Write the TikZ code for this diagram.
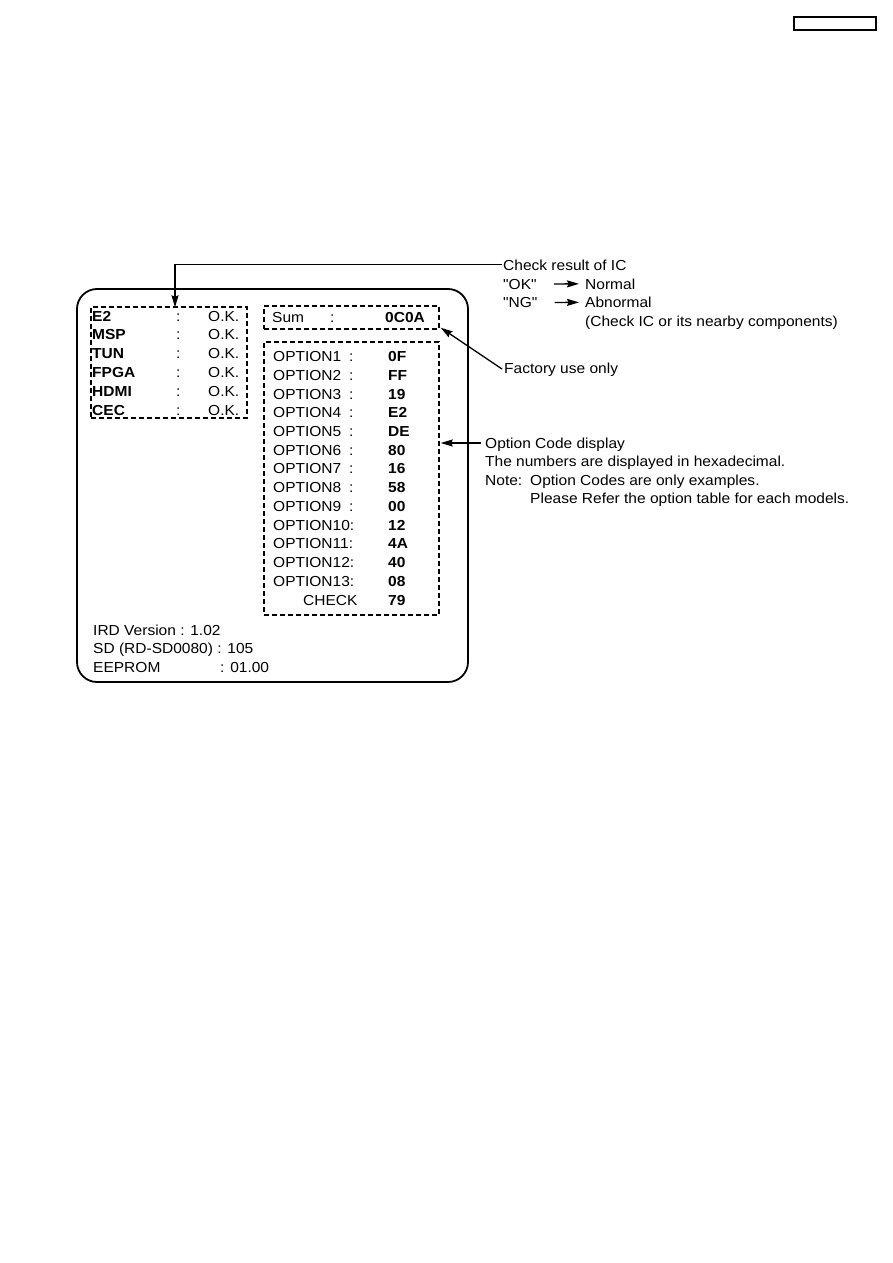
\documentclass[tikz,border=0pt]{standalone}
\usepackage{fontspec}
\setmainfont{Liberation Sans}[FakeStretch=1.07,Ligatures=TeXOff]
\usetikzlibrary{arrows.meta}
\begin{document}
\begin{tikzpicture}[x=1pt,y=-1pt,
 t/.style={anchor=base west,inner sep=0pt,font=\fontsize{14.5}{17}\selectfont},
 tb/.style={anchor=base west,inner sep=0pt,font=\fontsize{14.5}{17}\selectfont\bfseries},
 dbox/.style={draw,line width=1.4pt,dash pattern=on 5pt off 3pt,inner sep=0pt},
 arr/.style={line width=1.3pt,-{Stealth[length=12pt,width=7pt,inset=1.5pt]}}]
\useasboundingbox (0,0) rectangle (893,1263);
\fill[white] (0,0) rectangle (893,1263);
% header box
\node[draw,line width=1.6pt,inner sep=0pt,minimum width=82pt,minimum height=13pt] (hdr) at (835,23.5) {};
% screen
\node[draw,line width=1.8pt,rounded corners=20pt,inner sep=0pt,minimum width=391pt,minimum height=393pt] (screen) at (272.5,485.5) {};
% dashed boxes
\node[dbox,minimum width=156pt,minimum height=111pt] (icbox) at (169,362.5) {};
\node[dbox,minimum width=175pt,minimum height=23pt] (sumbox) at (351.5,317.5) {};
\node[dbox,minimum width=175pt,minimum height=273pt] (optbox) at (351.5,478.5) {};
% IC rows
\foreach \lab [count=\i from 0] in {E2,MSP,TUN,FPGA,HDMI,CEC}{
  \node[tb] (ic\i) at (92,321+18.8*\i) {\lab};
  \node[t] (icc\i) at (176,321+18.8*\i) {:};
  \node[t] (ick\i) at (208,321+18.8*\i) {O.K.};
}
% sum
\node[t] (sumlab) at (272,322) {Sum};
\node[t] (sumcol) at (330,322) {:};
\node[tb] (sumval) at (385,322) {0C0A};
% options
\foreach \v [count=\i] in {0F,FF,19,E2,DE,80,16,58,00}{
  \node[t] (opt\i) at (273,361.7+18.7*\i-18.7) {OPTION\i};
  \node[t] (optc\i) at (349,361.7+18.7*\i-18.7) {:};
  \node[tb] (optv\i) at (388,361.7+18.7*\i-18.7) {\v};
}
\foreach \v [count=\i from 10] in {12,4A,40,08}{
  \node[t] (opt\i) at (273,361.7+18.7*\i-18.7) {OPTION\i:};
  \node[tb] (optv\i) at (388,361.7+18.7*\i-18.7) {\v};
}
\node[t] (chkl) at (303,605) {CHECK};
\node[tb] (chkv) at (388,605) {79};
% bottom text
\node[t] (ird) at (93,635) {IRD Version : 1.02};
\node[t] (sd) at (93,653.5) {SD (RD-SD0080) : 105};
\node[t] (eep) at (93,672) {EEPROM};
\node[t] (eepv) at (220,672) {: 01.00};
% annotations
\node[t] (chk) at (503,270.5) {Check result of IC};
\node[t] (ok) at (503,289) {"OK"};
\node[t] (normal) at (585,289) {Normal};
\node[t] (ng) at (503,307.5) {"NG"};
\node[t] (abn) at (585,307.5) {Abnormal};
\node[t] (abn2) at (585,326) {(Check IC or its nearby components)};
\node[t] (fac) at (504,373) {Factory use only};
\node[t] (ocd) at (485,448) {Option Code display};
\node[t] (hex) at (485,466.5) {The numbers are displayed in hexadecimal.};
\node[t] (note) at (485,485) {Note:};
\node[t] (note2) at (530,485) {Option Codes are only examples.};
\node[t] (note3) at (530,503.5) {Please Refer the option table for each models.};
% connectors
\coordinate (chkstart) at (502,264.5);
\draw[arr] (chkstart) -| ([xshift=6pt,yshift=-1pt]icbox.north);
\draw[arr,shorten <=17pt,shorten >=6pt] (ok.east) -- (normal.west);
\draw[arr,shorten <=17pt,shorten >=6pt] (ng.east) -- (abn.west);
\coordinate (facstart) at (502,369);
\draw[arr] (facstart) -- ([xshift=1pt,yshift=2pt]sumbox.south east);
\coordinate (optstart) at (481,443);
\draw[arr] (optstart) -- ([xshift=1pt]optbox.east |- optstart);
\end{tikzpicture}
\end{document}
